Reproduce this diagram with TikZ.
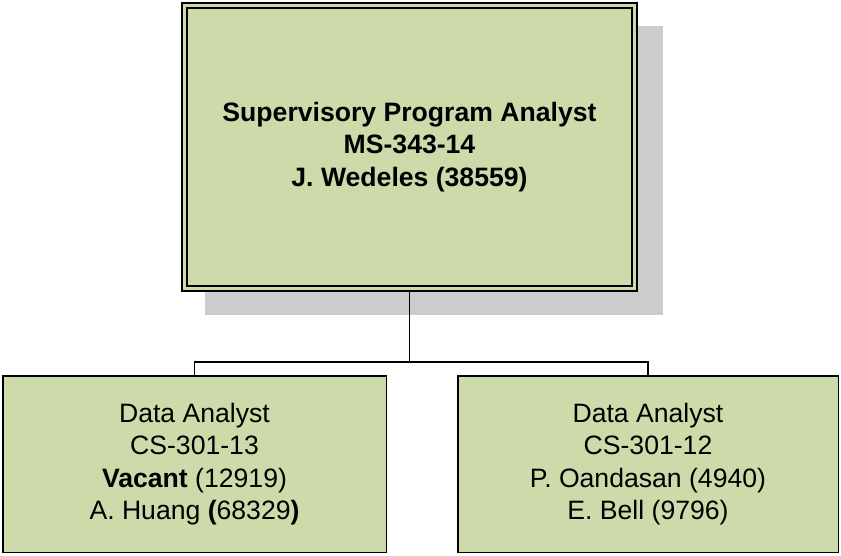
\documentclass[tikz,border=0pt]{standalone}
\usepackage{fontspec}
\setmainfont{Liberation Sans}
\usetikzlibrary{backgrounds}

\definecolor{boxgreen}{RGB}{205,219,171}
\definecolor{shadowgray}{RGB}{204,204,204}

\begin{document}
\begin{tikzpicture}[x=1pt, y=1pt]
\tikzset{ post/.style={fill=boxgreen, draw=black, align=center, inner sep=0pt,
            font=\fontsize{26.6}{32.5}\selectfont},
          chief/.style={post, double=boxgreen, line width=2pt, double distance=3pt,
            outer sep=3.5pt, minimum width=450, minimum height=283,
            font=\fontsize{26.6}{32.5}\selectfont\bfseries},
          staff/.style={post, line width=1.5pt, minimum height=176.5},
          link/.style={line width=1.5pt}, }

\useasboundingbox (0,0) rectangle (841,555);
%\draw [lightgray, dashed](0,0) grid[step=50] (841,555);

\node [chief] (SPA) at (409.5,408) {Supervisory Program Analyst\\MS-343-14\\J. Wedeles (38559)};

\node [staff, minimum width=383.5] (DA1) at (194.5,91)
      {Data Analyst\\CS-301-13\\\textbf{Vacant} (12919)\\A. Huang \textbf{(}68329\textbf{)}};
\node [staff, minimum width=380.5] (DA2) at (648,91)
      {Data Analyst\\CS-301-12\\P. Oandasan (4940)\\E. Bell (9796)};

\begin{scope}[on background layer]
\fill [shadowgray] ([shift={(24,-23)}]SPA.south west) rectangle ([shift={(25,-24)}]SPA.north east);
\end{scope}

\coordinate (bus) at (409.5,193);
\draw [link] (SPA.south) -- (bus) -| (DA1.north);
\draw [link] (bus) -| (DA2.north);

\end{tikzpicture}
\end{document}
